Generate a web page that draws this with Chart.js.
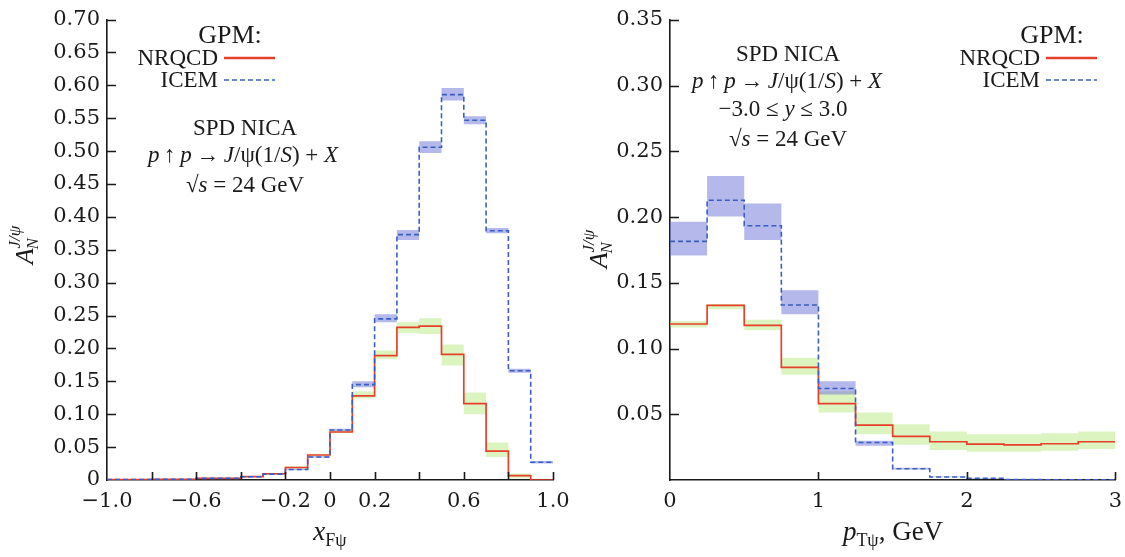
<!DOCTYPE html>
<html>
<head>
<meta charset="utf-8">
<script src="https://cdn.jsdelivr.net/npm/chart.js@4/dist/chart.umd.min.js"></script>
<style>
  html, body { margin: 0; padding: 0; background: #ffffff; }
  #wrap { position: relative; width: 1125px; height: 557px; overflow: hidden; }
  #wrap canvas { position: absolute; left: 0; top: 0; }
</style>
</head>
<body>
<div id="wrap">
  <canvas id="xfChart" width="1125" height="557"></canvas>
  <canvas id="ptChart" width="1131" height="557"></canvas>
</div>
<script>
// ---- x_F distribution (bin edges, central values and uncertainty bands) ----
const xfEdges = [-1.0, -0.9, -0.8, -0.7, -0.6, -0.5, -0.4, -0.3, -0.2, -0.1, 0.0,
                 0.1, 0.2, 0.3, 0.4, 0.5, 0.6, 0.7, 0.8, 0.9, 1.0];
const xfNrqcd   = [0.0005, 0.0005, 0.001, 0.001, 0.0025, 0.0025, 0.005, 0.0095, 0.019, 0.038,
                   0.073, 0.128, 0.189, 0.232, 0.234, 0.191, 0.116, 0.044, 0.0066, 0.0];
const xfNrqcdLo = [0.0, 0.0, 0.0005, 0.0005, 0.002, 0.002, 0.004, 0.008, 0.017, 0.036,
                   0.071, 0.124, 0.184, 0.223, 0.222, 0.174, 0.100, 0.035, 0.0025, 0.0];
const xfNrqcdHi = [0.001, 0.001, 0.0015, 0.0015, 0.003, 0.003, 0.006, 0.011, 0.021, 0.040,
                   0.076, 0.135, 0.197, 0.240, 0.246, 0.206, 0.133, 0.057, 0.010, 0.0];
const xfIcem    = [0.0005, 0.0005, 0.001, 0.001, 0.0025, 0.0025, 0.005, 0.009, 0.016, 0.035,
                   0.076, 0.145, 0.245, 0.373, 0.506, 0.586, 0.547, 0.379, 0.166, 0.027];
const xfIcemLo  = [0.0, 0.0, 0.0005, 0.0005, 0.002, 0.002, 0.004, 0.008, 0.015, 0.034,
                   0.074, 0.141, 0.240, 0.365, 0.497, 0.577, 0.541, 0.375, 0.163, 0.025];
const xfIcemHi  = [0.001, 0.001, 0.0015, 0.0015, 0.003, 0.003, 0.006, 0.010, 0.017, 0.036,
                   0.078, 0.150, 0.252, 0.380, 0.515, 0.596, 0.553, 0.383, 0.169, 0.029];
const xfLabelled = [-1.0, -0.6, -0.2, 0.0, 0.2, 0.6, 1.0];

// ---- p_T distribution ----
const ptEdges = [0, 0.25, 0.5, 0.75, 1.0, 1.25, 1.5, 1.75, 2.0, 2.25, 2.5, 2.75, 3.0];
const ptNrqcd   = [0.1187, 0.1329, 0.1177, 0.0857, 0.0581, 0.0417, 0.0332, 0.0291, 0.0273, 0.0268, 0.0276, 0.0291];
const ptNrqcdLo = [0.116, 0.130, 0.114, 0.080, 0.0513, 0.0349, 0.0268, 0.0228, 0.0215, 0.0215, 0.0223, 0.0236];
const ptNrqcdHi = [0.121, 0.134, 0.122, 0.093, 0.0676, 0.0513, 0.0424, 0.0369, 0.0349, 0.0349, 0.0356, 0.0369];
const ptIcem    = [0.1816, 0.2129, 0.1935, 0.1331, 0.0696, 0.0285, 0.0086, 0.0023, 0.0013, 0.0003, 0.0002, 0.0001];
const ptIcemLo  = [0.1708, 0.2005, 0.1827, 0.1261, 0.0651, 0.026, 0.008, 0.002, 0.001, 0.0, 0.0, 0.0];
const ptIcemHi  = [0.1965, 0.2313, 0.2103, 0.1444, 0.0751, 0.0298, 0.0093, 0.0027, 0.0016, 0.0005, 0.0004, 0.0002];

// ---- styling ----
const RED = '#e6402b';
const BLUE = '#3a5ec4';
const RED_BAND = 'rgba(172, 228, 105, 0.42)';
const BLUE_BAND = 'rgba(108, 114, 214, 0.50)';
const SERIF = '"Liberation Serif", "Times New Roman", serif';
const TICK_FONT = { family: '"DejaVu Serif", serif', size: 21 };
const INK = '#1a1a1a';

// Histogram as a stepped line: one point per bin's left edge plus the closing edge.
function histPoints(edges, vals) {
  const pts = vals.map((v, i) => ({ x: edges[i], y: v }));
  pts.push({ x: edges[edges.length - 1], y: vals[vals.length - 1] });
  return pts;
}

function histDatasets(edges, nr, nrLo, nrHi, ic, icLo, icHi) {
  const edgeLine = { borderColor: 'transparent', borderWidth: 0, stepped: true, pointRadius: 0, fill: false };
  return [
    { label: 'ICEM', data: histPoints(edges, ic), borderColor: BLUE, borderWidth: 1.6,
      borderDash: [5, 3], stepped: true, pointRadius: 0, fill: false, order: 0 },
    { label: 'NRQCD', data: histPoints(edges, nr), borderColor: RED, borderWidth: 1.7,
      stepped: true, pointRadius: 0, fill: false, order: 1 },
    Object.assign({ label: 'icLo', data: histPoints(edges, icLo), order: 2 }, edgeLine),
    Object.assign({}, edgeLine, { label: 'icHi', data: histPoints(edges, icHi), order: 2,
      fill: { target: 2 }, backgroundColor: BLUE_BAND }),
    Object.assign({ label: 'nrLo', data: histPoints(edges, nrLo), order: 3 }, edgeLine),
    Object.assign({}, edgeLine, { label: 'nrHi', data: histPoints(edges, nrHi), order: 3,
      fill: { target: 4 }, backgroundColor: RED_BAND }),
  ];
}

// Draws a sequence of text runs (roman / italic / shifted) on one baseline.
function drawRuns(ctx, parts, x, y, align) {
  const fontOf = p => (p.i ? 'italic ' : '') + (p.s || 23) + 'px ' + SERIF;
  let total = 0;
  const widths = parts.map(p => { ctx.font = fontOf(p); const w = ctx.measureText(p.t).width; total += w; return w; });
  let cx = align === 'center' ? x - total / 2 : align === 'right' ? x - total : x;
  ctx.textBaseline = 'alphabetic';
  ctx.textAlign = 'left';
  parts.forEach((p, k) => {
    ctx.font = fontOf(p);
    ctx.fillText(p.t, cx, y + (p.dy || 0));
    cx += widths[k];
  });
  return total;
}

function drawYTitle(ctx, bx, cy) {
  ctx.save();
  ctx.translate(bx, cy);
  ctx.rotate(-Math.PI / 2);
  ctx.fillStyle = INK;
  ctx.font = 'italic 26px ' + SERIF;
  const wA = ctx.measureText('A').width;
  ctx.font = 'italic 17px ' + SERIF;
  const wSup = ctx.measureText('J/ψ').width;
  const total = wA + wSup;
  let x0 = -total / 2;
  ctx.textBaseline = 'alphabetic';
  ctx.font = 'italic 26px ' + SERIF;
  ctx.fillText('A', x0, 0);
  ctx.font = 'italic 17px ' + SERIF;
  ctx.fillText('N', x0 + wA - 1, 5);
  ctx.fillText('J/ψ', x0 + wA, -13);
  ctx.restore();
}

function legendBlock(ctx, cxTitle, xRight, lineLen) {
  ctx.fillStyle = INK;
  drawRuns(ctx, [{ t: 'GPM:', s: 26 }], cxTitle, 43, 'center');
  drawRuns(ctx, [{ t: 'NRQCD' }], xRight, 65, 'right');
  drawRuns(ctx, [{ t: 'ICEM' }], xRight, 87, 'right');
  ctx.save();
  ctx.lineWidth = 2.4;
  ctx.strokeStyle = RED;
  ctx.beginPath(); ctx.moveTo(xRight + 6, 58); ctx.lineTo(xRight + 6 + lineLen, 58); ctx.stroke();
  ctx.lineWidth = 1.6;
  ctx.strokeStyle = BLUE;
  ctx.setLineDash([5, 3]);
  ctx.beginPath(); ctx.moveTo(xRight + 6, 80); ctx.lineTo(xRight + 6 + lineLen, 80); ctx.stroke();
  ctx.restore();
}

const reaction = [
  { t: 'p', i: true }, { t: '\u2009\u2191\u2009' }, { t: 'p', i: true }, { t: '\u2009\u2192\u2009' },
  { t: 'J', i: true }, { t: '/ψ(1/' }, { t: 'S', i: true }, { t: ') + ' }, { t: 'X', i: true }
];
const energy = [{ t: '√' }, { t: 's', i: true }, { t: ' = 24 GeV' }];

// Inward tick marks along the left and bottom axes.
const innerTicks = {
  id: 'innerTicks',
  afterDraw(chart) {
    const { ctx, chartArea: a, scales: { x, y } } = chart;
    ctx.save();
    ctx.strokeStyle = INK;
    ctx.lineWidth = 1.6;
    ctx.beginPath();
    x.ticks.forEach(t => {
      if (t.value <= x.min + 1e-9) return;
      const px = Math.round(x.getPixelForValue(t.value)) + 0.5;
      ctx.moveTo(px, a.bottom); ctx.lineTo(px, a.bottom - 8);
    });
    y.ticks.forEach(t => {
      if (t.value <= y.min + 1e-9) return;
      const py = Math.round(y.getPixelForValue(t.value)) + 0.5;
      ctx.moveTo(a.left, py); ctx.lineTo(a.left + 9, py);
    });
    ctx.stroke();
    ctx.restore();
  }
};

function fmtSigned(v, digits) {
  if (Math.abs(v) < 1e-9) return '0';
  const s = Math.abs(v).toFixed(digits);
  return v < 0 ? '\u2212' + s : s;
}

function baseOptions(cfg) {
  return {
    responsive: false,
    animation: false,
    devicePixelRatio: 1,
    events: [],
    layout: { padding: cfg.padding },
    plugins: { legend: { display: false }, tooltip: { enabled: false } },
    scales: {
      x: {
        type: 'linear', min: cfg.xMin, max: cfg.xMax,
        grid: { display: false, drawTicks: false },
        border: { display: true, color: INK, width: 1.6 },
        ticks: { stepSize: cfg.xStep, autoSkip: false, maxRotation: 0, padding: 9,
                 font: TICK_FONT, color: INK, callback: cfg.xLabel },
        afterFit: s => { s.height = 77; }
      },
      y: {
        type: 'linear', min: 0, max: cfg.yMax,
        grid: { display: false, drawTicks: false },
        border: { display: true, color: INK, width: 1.6 },
        ticks: { stepSize: 0.05, autoSkip: false, padding: 7,
                 font: TICK_FONT, color: INK, callback: cfg.yLabel },
        afterFit: s => { s.width = cfg.yWidth; }
      }
    }
  };
}

// Left panel: A_N versus x_F
new Chart(document.getElementById('xfChart'), {
  type: 'line',
  data: { datasets: histDatasets(xfEdges, xfNrqcd, xfNrqcdLo, xfNrqcdHi, xfIcem, xfIcemLo, xfIcemHi) },
  options: baseOptions({
    padding: { left: 0, top: 17, right: 572, bottom: 0 },
    xMin: -1.0, xMax: 1.0, xStep: 0.2, yMax: 0.70, yWidth: 107,
    xLabel: v => xfLabelled.some(l => Math.abs(l - v) < 1e-6) ? fmtSigned(v, Math.abs(v) < 1e-9 ? 0 : 1) : '',
    yLabel: v => Math.abs(v) < 1e-9 ? '0' : v.toFixed(2)
  }),
  plugins: [innerTicks, {
    id: 'xfText',
    afterDraw(chart) {
      const ctx = chart.ctx;
      ctx.save();
      ctx.fillStyle = INK;
      legendBlock(ctx, 230, 218, 51);
      drawRuns(ctx, [{ t: 'SPD NICA' }], 245, 135, 'center');
      drawRuns(ctx, reaction, 243, 162, 'center');
      drawRuns(ctx, energy, 245, 192, 'center');
      drawRuns(ctx, [{ t: 'x', i: true, s: 27 }, { t: 'Fψ', s: 18, dy: 6 }], 330, 540, 'center');
      drawYTitle(ctx, 33, 245);
      ctx.restore();
    }
  }]
});

// Right panel: A_N versus p_T
new Chart(document.getElementById('ptChart'), {
  type: 'line',
  data: { datasets: histDatasets(ptEdges, ptNrqcd, ptNrqcdLo, ptNrqcdHi, ptIcem, ptIcemLo, ptIcemHi) },
  options: baseOptions({
    padding: { left: 600, top: 20, right: 11, bottom: 0 },
    xMin: 0, xMax: 3, xStep: 1, yMax: 0.35, yWidth: 70,
    xLabel: v => String(Math.round(v)),
    yLabel: v => Math.abs(v) < 1e-9 ? '' : v.toFixed(2)
  }),
  plugins: [innerTicks, {
    id: 'ptText',
    afterDraw(chart) {
      const ctx = chart.ctx;
      ctx.save();
      ctx.fillStyle = INK;
      legendBlock(ctx, 1052, 1040, 51);
      drawRuns(ctx, [{ t: 'SPD NICA' }], 788, 61, 'center');
      drawRuns(ctx, reaction, 787, 88, 'center');
      drawRuns(ctx, [{ t: '\u22123.0 \u2264 ' }, { t: 'y', i: true }, { t: ' \u2264 3.0' }], 783, 116, 'center');
      drawRuns(ctx, energy, 788, 146, 'center');
      drawRuns(ctx, [{ t: 'p', i: true, s: 27 }, { t: 'Tψ', s: 18, dy: 6 }, { t: ', GeV', s: 27 }], 893, 540, 'center');
      drawYTitle(ctx, 607, 249);
      ctx.restore();
    }
  }]
});
</script>
</body>
</html>
